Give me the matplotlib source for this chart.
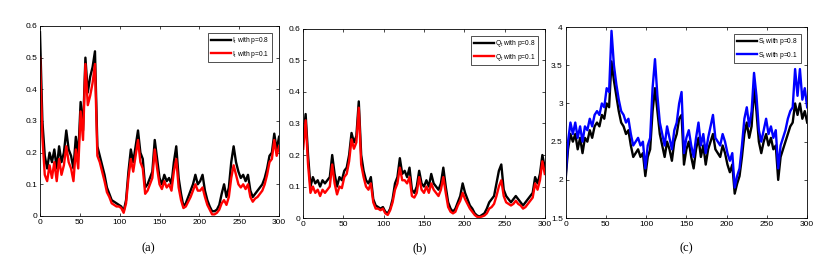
import matplotlib
matplotlib.use('Agg')
import matplotlib.pyplot as plt
import numpy as np

plt.rcParams['font.family'] = ['Liberation Sans', 'DejaVu Sans']

# values, every 3 time units from 0 to 300
I_p08 = [0.58, 0.30, 0.19, 0.15, 0.20, 0.17, 0.21, 0.15, 0.22, 0.17, 0.20, 0.27, 0.21, 0.19, 0.15,
         0.25, 0.19, 0.36, 0.27, 0.50, 0.39, 0.44, 0.47, 0.52, 0.22, 0.19, 0.16, 0.13, 0.09, 0.07,
         0.05, 0.045, 0.04, 0.035, 0.03, 0.015, 0.05, 0.14, 0.21, 0.17, 0.22, 0.27, 0.20, 0.18, 0.09,
         0.10, 0.12, 0.14, 0.24, 0.18, 0.12, 0.10, 0.13, 0.11, 0.12, 0.10, 0.17, 0.22, 0.12, 0.07,
         0.03, 0.04, 0.06, 0.08, 0.10, 0.13, 0.10, 0.11, 0.13, 0.08, 0.05, 0.03, 0.015, 0.015, 0.02,
         0.035, 0.07, 0.10, 0.06, 0.09, 0.17, 0.22, 0.17, 0.14, 0.12, 0.13, 0.11, 0.13, 0.08, 0.06,
         0.07, 0.08, 0.09, 0.10, 0.12, 0.15, 0.19, 0.20, 0.26, 0.21, 0.25]
I_p01 = [0.50, 0.25, 0.13, 0.11, 0.16, 0.12, 0.17, 0.11, 0.18, 0.13, 0.16, 0.22, 0.17, 0.15, 0.11,
         0.21, 0.15, 0.33, 0.24, 0.48, 0.35, 0.38, 0.42, 0.48, 0.19, 0.17, 0.14, 0.11, 0.075, 0.06,
         0.04, 0.035, 0.03, 0.03, 0.025, 0.01, 0.04, 0.12, 0.18, 0.14, 0.19, 0.24, 0.17, 0.15, 0.07,
         0.08, 0.10, 0.12, 0.21, 0.15, 0.10, 0.085, 0.11, 0.09, 0.10, 0.08, 0.14, 0.18, 0.09, 0.05,
         0.025, 0.03, 0.045, 0.06, 0.08, 0.10, 0.08, 0.08, 0.09, 0.06, 0.035, 0.02, 0.005, 0.005, 0.01,
         0.02, 0.04, 0.05, 0.035, 0.06, 0.12, 0.16, 0.13, 0.10, 0.09, 0.10, 0.085, 0.10, 0.06, 0.045,
         0.055, 0.06, 0.07, 0.08, 0.10, 0.13, 0.17, 0.18, 0.24, 0.19, 0.22]

Q_p08 = [0.25, 0.33, 0.20, 0.10, 0.13, 0.11, 0.12, 0.10, 0.12, 0.11, 0.12, 0.13, 0.20, 0.14, 0.10,
         0.13, 0.12, 0.15, 0.16, 0.20, 0.27, 0.24, 0.26, 0.37, 0.20, 0.15, 0.12, 0.11, 0.13, 0.06,
         0.04, 0.035, 0.03, 0.035, 0.02, 0.015, 0.03, 0.06, 0.11, 0.13, 0.19, 0.14, 0.15, 0.13, 0.16,
         0.09, 0.08, 0.10, 0.15, 0.11, 0.10, 0.12, 0.10, 0.14, 0.11, 0.10, 0.09, 0.11, 0.16, 0.10,
         0.05, 0.03, 0.02, 0.03, 0.05, 0.07, 0.11, 0.08, 0.06, 0.04, 0.03, 0.015, 0.008, 0.005, 0.01,
         0.015, 0.03, 0.05, 0.06, 0.07, 0.11, 0.15, 0.17, 0.09, 0.07, 0.06, 0.05, 0.06, 0.07, 0.06,
         0.05, 0.04, 0.05, 0.06, 0.07, 0.08, 0.13, 0.11, 0.14, 0.20, 0.16]
Q_p01 = [0.22, 0.31, 0.17, 0.08, 0.10, 0.08, 0.09, 0.07, 0.09, 0.08, 0.09, 0.10, 0.17, 0.11, 0.075,
         0.10, 0.095, 0.13, 0.14, 0.18, 0.25, 0.22, 0.24, 0.35, 0.17, 0.13, 0.10, 0.09, 0.11, 0.05,
         0.03, 0.03, 0.025, 0.03, 0.015, 0.01, 0.025, 0.05, 0.09, 0.11, 0.16, 0.12, 0.12, 0.11, 0.13,
         0.07, 0.065, 0.08, 0.13, 0.09, 0.08, 0.10, 0.08, 0.11, 0.09, 0.08, 0.07, 0.09, 0.13, 0.08,
         0.035, 0.02, 0.015, 0.02, 0.04, 0.055, 0.08, 0.06, 0.045, 0.03, 0.02, 0.01, 0.004, 0.003, 0.005,
         0.008, 0.015, 0.03, 0.035, 0.045, 0.07, 0.10, 0.12, 0.07, 0.05, 0.045, 0.04, 0.045, 0.055, 0.045,
         0.04, 0.03, 0.035, 0.045, 0.055, 0.065, 0.11, 0.09, 0.12, 0.18, 0.14]

S_p08 = [2.0, 2.4, 2.6, 2.5, 2.6, 2.4, 2.55, 2.35, 2.55, 2.5, 2.65, 2.55, 2.7, 2.75, 2.7,
         2.85, 2.8, 3.0, 2.95, 3.55, 3.3, 3.1, 2.9, 2.75, 2.7, 2.6, 2.65, 2.45, 2.3, 2.35,
         2.4, 2.3, 2.35, 2.05, 2.3, 2.4, 2.9, 3.2, 2.9, 2.6, 2.45, 2.3, 2.5, 2.4, 2.25,
         2.5, 2.6, 2.8, 2.85, 2.2, 2.4, 2.5, 2.3, 2.15, 2.4, 2.55, 2.3, 2.45, 2.2, 2.4,
         2.5, 2.6, 2.4, 2.35, 2.3, 2.45, 2.35, 2.2, 2.1, 2.2, 1.82, 1.95, 2.05, 2.3, 2.6,
         2.75, 2.55, 2.7, 3.2, 2.9, 2.5, 2.35, 2.5, 2.6, 2.45, 2.55, 2.4, 2.45, 2.0, 2.3,
         2.4, 2.5, 2.6, 2.7, 2.75, 3.0, 2.85, 3.0, 2.8, 2.9, 2.75]
S_p01 = [2.05, 2.5, 2.75, 2.6, 2.75, 2.55, 2.7, 2.5, 2.7, 2.65, 2.8, 2.7, 2.85, 2.9, 2.85,
         3.0, 2.95, 3.2, 3.15, 3.95, 3.5, 3.25, 3.05, 2.9, 2.85, 2.75, 2.8, 2.6, 2.45, 2.5,
         2.55, 2.45, 2.5, 2.15, 2.45, 2.55, 3.2, 3.58, 3.1, 2.75, 2.6, 2.45, 2.7, 2.55, 2.4,
         2.65, 2.75, 3.0, 3.15, 2.35, 2.55, 2.65, 2.45, 2.3, 2.55, 2.75, 2.45, 2.6, 2.35, 2.55,
         2.7, 2.85, 2.55, 2.5, 2.45, 2.6, 2.5, 2.35, 2.25, 2.35, 1.9, 2.05, 2.15, 2.45, 2.8,
         2.95, 2.7, 2.9, 3.4, 3.1, 2.65, 2.5, 2.65, 2.8, 2.6, 2.7, 2.55, 2.65, 2.15, 2.45,
         2.55, 2.65, 2.8, 2.9, 2.95, 3.45, 3.1, 3.45, 3.05, 3.2, 2.95]

panels = [
    (I_p08, I_p01, 'I', 'red', (0, 0.6), [0, 0.1, 0.2, 0.3, 0.4, 0.5, 0.6], '(a)'),
    (Q_p08, Q_p01, 'Q', 'red', (0, 0.6), [0, 0.1, 0.2, 0.3, 0.4, 0.5, 0.6], '(b)'),
    (S_p08, S_p01, 'S', 'blue', (1.5, 4), [1.5, 2, 2.5, 3, 3.5, 4], '(c)'),
]
boxes = [[0.048, 0.185, 0.287, 0.717],
         [0.364, 0.177, 0.290, 0.714],
         [0.679, 0.177, 0.290, 0.721]]
label_x = [148 / 833, 420 / 833, 686 / 833]

fig = plt.figure(figsize=(8.33, 2.65), dpi=100)
for k, (hi, lo, name, col, ylim, yt, tag) in enumerate(panels):
    ax = fig.add_axes(boxes[k])
    t_hi = np.linspace(0, 300, len(hi))
    t_lo = np.linspace(0, 300, len(lo))
    ax.plot(t_hi, hi, color='black', lw=1.7, label=name + r'$_\mathregular{t}$ with p=0.8')
    ax.plot(t_lo, lo, color=col, lw=1.7, label=name + r'$_\mathregular{t}$ with p=0.1')
    ax.set_xlim(0, 300)
    ax.set_ylim(*ylim)
    ax.set_xticks([0, 50, 100, 150, 200, 250, 300])
    ax.set_yticks(yt)
    ax.set_yticklabels([('%g' % v) for v in yt])
    ax.tick_params(direction='in', top=True, right=True, labelsize=6, length=2.5, width=0.5, pad=2)
    for s in ax.spines.values():
        s.set_linewidth(0.6)
    leg = ax.legend(loc='upper right', fontsize=4.8, frameon=True, fancybox=False,
                    edgecolor='black', handlelength=3.0, borderpad=0.4, labelspacing=0.35,
                    handletextpad=0.2, borderaxespad=1.0)
    leg.get_frame().set_linewidth(0.6)
    fig.text(label_x[k], 1 - 248 / 265, tag, ha='center', va='center',
             fontsize=9, family='Liberation Serif')

fig.savefig('out.png', dpi=100)
